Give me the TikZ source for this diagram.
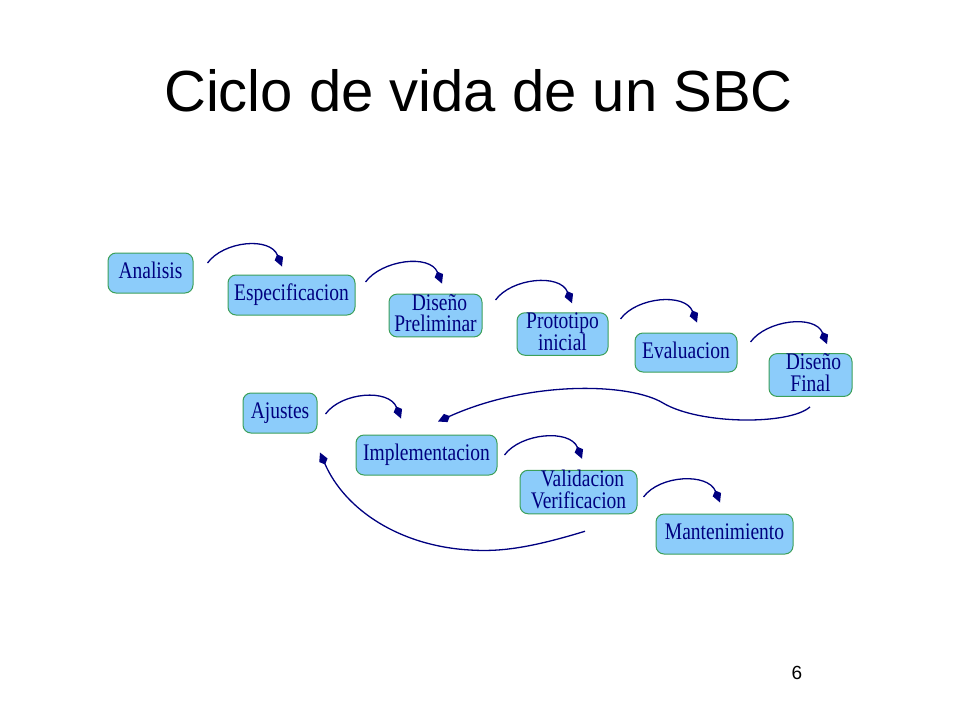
\documentclass[tikz,border=0pt]{standalone}
\usepackage{fontspec}
\setmainfont{Liberation Serif}
\newfontfamily\titlefont{Liberation Sans}
\usetikzlibrary{arrows.meta}
\definecolor{boxfill}{RGB}{140,204,250}
\definecolor{boxline}{RGB}{60,160,90}
\definecolor{navy}{RGB}{0,0,128}
\newcommand{\bx}[1]{\scalebox{1}[1.22]{\begin{tabular}{@{}c@{}}#1\end{tabular}}}
\tikzset{
  stagebox/.style={draw=boxline, line width=1pt, fill=boxfill, rounded corners=8pt,
    inner sep=0pt, text=navy, font=\fontsize{19.5}{14}\selectfont},
  conn/.style={draw=navy, line width=1.3pt, -{Kite[length=13pt,width=9pt,inset=4.5pt]}},
}
\begin{document}
\begin{tikzpicture}[x=1pt,y=-1pt]
\useasboundingbox (0,0) rectangle (960,720);
% title and page number
\node[anchor=base, font=\titlefont\fontsize{58}{60}\selectfont, inner sep=0pt] (title) at (478.5,111) {Ciclo de vida de un SBC};
\node[anchor=base, font=\titlefont\fontsize{19}{20}\selectfont, inner sep=0pt] (pnum) at (797,679) {6};
% stages
\node[stagebox, minimum width=85pt, minimum height=40pt] (an) at (150.5,273) {\bx{Analisis}};
\node[stagebox, minimum width=127pt, minimum height=40pt] (es) at (291.5,295) {\bx{Especificacion}};
\node[stagebox, minimum width=93pt, minimum height=41pt] (dp) at (435.5,315.5) {\bx{\hspace{8pt}Diseño\\Preliminar}};
\node[stagebox, minimum width=91pt, minimum height=42pt] (pi) at (562.5,334) {\bx{Prototipo\\inicial\hspace{10pt}}};
\node[stagebox, minimum width=102pt, minimum height=39pt] (ev) at (686,352.5) {\bx{Evaluacion}};
\node[stagebox, minimum width=83pt, minimum height=40pt] (df) at (810.5,375) {\bx{\hspace{6pt}Diseño\\Final}};
\node[stagebox, minimum width=74pt, minimum height=40pt] (aj) at (280,413) {\bx{Ajustes}};
\node[stagebox, minimum width=141pt, minimum height=40pt] (im) at (426.5,455) {\bx{Implementacion}};
\node[stagebox, minimum width=117pt, minimum height=42pt] (vv) at (578.5,492) {\bx{\hspace{8pt}Validacion\\Verificacion}};
\node[stagebox, minimum width=137pt, minimum height=40pt] (mt) at (724.5,534) {\bx{Mantenimiento}};
% small arcs
\draw[conn] ([shift={(14,-10)}]an.east) .. controls +(16,-22) and +(-12,-30) .. ([shift={(-9.5,-8)}]es.north);
\draw[conn] ([shift={(10,-13)}]es.east) .. controls +(16,-22) and +(-12,-30) .. ([shift={(6.5,-10)}]dp.north);
\draw[conn] ([shift={(13,-15.5)}]dp.east) .. controls +(16,-22) and +(-12,-30) .. ([shift={(9.5,-9)}]pi.north);
\draw[conn] ([shift={(12,-15)}]pi.east) .. controls +(16,-22) and +(-12,-30) .. ([shift={(11,-10)}]ev.north);
\draw[conn] ([shift={(13,-10.5)}]ev.east) .. controls +(16,-22) and +(-12,-30) .. ([shift={(16.5,-9)}]df.north);
\draw[conn] ([shift={(8,1)}]aj.east) .. controls +(16,-22) and +(-12,-30) .. ([shift={(-25.5,-16)}]im.north);
\draw[conn] ([shift={(7,0)}]im.east) .. controls +(16,-22) and +(-12,-30) .. ([shift={(3.5,-11)}]vv.north);
\draw[conn] ([shift={(6,5)}]vv.east) .. controls +(16,-22) and +(-12,-30) .. ([shift={(-4.5,-11)}]mt.north);
% long return arcs
\draw[conn] ([shift={(-0.5,10)}]df.south) .. controls (790,425) and (700,425) .. (663,403)
  .. controls (630,383) and (530,380) .. ([shift={(11.5,-13)}]im.north);
\draw[conn] ([shift={(6.5,17)}]vv.south) .. controls (530,548) and (500,552) .. (470,550)
  .. controls (400,546) and (345,510) .. ([shift={(40,19)}]aj.south);
\end{tikzpicture}
\end{document}
